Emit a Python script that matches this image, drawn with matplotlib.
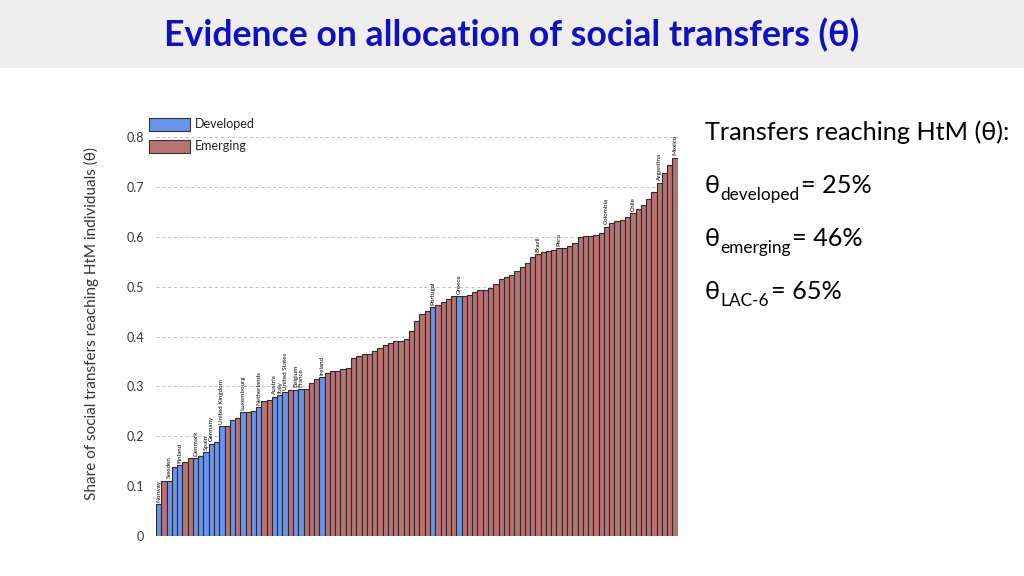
import numpy as np
import matplotlib
matplotlib.use("Agg")
import matplotlib.pyplot as plt
from matplotlib.patches import Rectangle

plt.rcParams['font.family'] = ['Lato', 'DejaVu Sans']

# share of social transfers reaching HtM individuals, sorted ascending
theta = [0.064, 0.111, 0.111, 0.138, 0.142, 0.148, 0.156, 0.156, 0.160, 0.168,
         0.185, 0.188, 0.220, 0.220, 0.233, 0.236, 0.248, 0.248, 0.251, 0.258,
         0.271, 0.273, 0.279, 0.282, 0.288, 0.292, 0.293, 0.294, 0.294, 0.306,
         0.314, 0.318, 0.326, 0.331, 0.331, 0.335, 0.336, 0.356, 0.360, 0.364,
         0.365, 0.371, 0.376, 0.382, 0.386, 0.390, 0.391, 0.395, 0.412, 0.432,
         0.445, 0.452, 0.459, 0.463, 0.469, 0.475, 0.481, 0.481, 0.481, 0.483,
         0.489, 0.493, 0.493, 0.497, 0.505, 0.515, 0.519, 0.523, 0.531, 0.539,
         0.547, 0.560, 0.565, 0.569, 0.571, 0.574, 0.577, 0.577, 0.581, 0.587,
         0.599, 0.601, 0.602, 0.604, 0.607, 0.620, 0.628, 0.632, 0.633, 0.639,
         0.647, 0.655, 0.664, 0.675, 0.689, 0.708, 0.728, 0.744, 0.758]

# 1-based positions of developed economies
developed_pos = [1, 3, 4, 5, 8, 9, 10, 11, 12, 13, 15, 17, 19, 20, 23, 24, 25,
                 27, 28, 32, 53, 58]

# labelled countries (1-based position, name)
label_pos = [1, 3, 5, 8, 10, 11, 13, 17, 20, 23, 24, 25, 27, 28, 32, 53, 58,
             73, 77, 86, 91, 96, 99]
label_names = ["Norway", "Sweden", "Finland", "Denmark", "Spain", "Germany",
               "United Kingdom", "Luxembourg", "Netherlands", "Austria", "Italy",
               "United States", "Belgium", "France", "Ireland", "Portugal",
               "Greece", "Brazil", "Peru", "Colombia", "Chile", "Argentina",
               "Mexico"]

yticks = [0, 0.1, 0.2, 0.3, 0.4, 0.5, 0.6, 0.7, 0.8]
ytick_labels = ["0", "0.1", "0.2", "0.3", "0.4", "0.5", "0.6", "0.7", "0.8"]

c_dev = "#6a93ea"
c_emg = "#b87272"

n = len(theta)
x = np.arange(n)
colors = [c_dev if (i + 1) in developed_pos else c_emg for i in range(n)]

fig = plt.figure(figsize=(10.24, 5.76), dpi=100)

# header band
fig.add_artist(Rectangle((0, 1 - 68 / 576), 1, 68 / 576, transform=fig.transFigure,
                         facecolor="#eeeeee", edgecolor="none", zorder=0))
fig.text(0.5, 1 - 35 / 576, "Evidence on allocation of social transfers (θ)",
         ha="center", va="center", fontsize=25.7, fontweight="bold", color="#1010c0")

ax = fig.add_axes([156 / 1024, 1 - 536 / 576, 521.7 / 1024, 399 / 576])
ax.bar(x, theta, width=1.0, color=colors, edgecolor="#2b2b2b", linewidth=0.8, zorder=2)
ax.set_xlim(-0.5, n - 0.5)
ax.set_ylim(0, 0.8)
ax.set_yticks(yticks)
ax.set_yticklabels(ytick_labels, fontsize=9, color="#333333")
ax.tick_params(axis="y", length=0, pad=8.5)
ax.set_xticks([])
for s in ax.spines.values():
    s.set_visible(False)
ax.grid(axis="y", linestyle=(0, (3, 3)), color="#bbbbbb", linewidth=0.7, zorder=0)
ax.set_axisbelow(True)
ax.set_ylabel("Share of social transfers reaching HtM individuals (θ)",
              fontsize=11, color="#333333", va="center")
ax.yaxis.set_label_coords((91 - 156) / 521.7, (536 - 324) / 399)

for p, name in zip(label_pos, label_names):
    ax.text(p - 1, theta[p - 1] + 0.005, name, rotation=90, ha="center", va="bottom",
            fontsize=4.5, color="black", clip_on=False)

# legend
for yy, col, lab in [(118, c_dev, "Developed"), (140, c_emg, "Emerging")]:
    fig.add_artist(Rectangle((149 / 1024, 1 - (yy + 13) / 576), 41 / 1024, 13 / 576,
                             transform=fig.transFigure, facecolor=col,
                             edgecolor="#333333", linewidth=0.8))
    fig.text(195 / 1024, 1 - (yy + 6.5) / 576, lab, ha="left", va="center",
             fontsize=9, color="#222222")

# right-hand summary
fig.text(705 / 1024, 1 - 140 / 576, "Transfers reaching HtM (θ):", ha="left",
         va="baseline", fontsize=18.2, color="black")
for base, sub, val in [(193, "developed", "= 25%"), (246, "emerging", "= 46%"),
                       (299, "LAC-6", "= 65%")]:
    fig.text(705 / 1024, 1 - base / 576, "θ", ha="left", va="baseline",
             fontsize=18.2, color="black")
    t2 = fig.text(720 / 1024, 1 - (base + 7) / 576, sub, fontsize=12.4,
                  color="black", va="baseline")
    fig.canvas.draw()
    bb = t2.get_window_extent(fig.canvas.get_renderer())
    fig.text(bb.x1 / 1024 + 2 / 1024, 1 - base / 576, val, ha="left", va="baseline",
             fontsize=18.2, color="black")

fig.savefig("out.png", dpi=100)
